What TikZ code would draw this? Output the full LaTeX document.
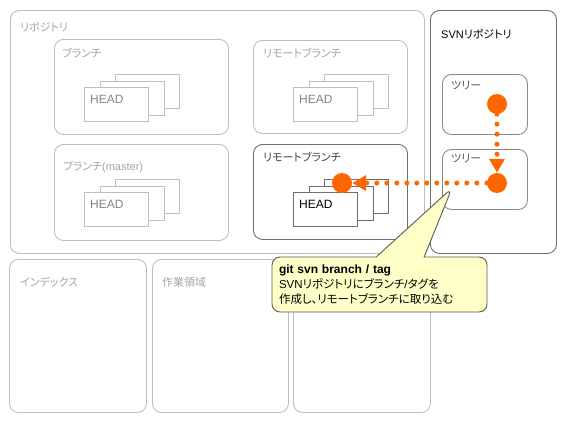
\documentclass[tikz,border=0pt]{standalone}
\usepackage{fontspec}
\setmainfont{Liberation Sans}
\newfontfamily\jp[RawFeature=+palt]{Noto Sans CJK JP}
\usetikzlibrary{positioning, shapes.callouts, arrows.meta}
\definecolor{boxpale}{HTML}{BEBEBE}
\definecolor{boxdark}{HTML}{6E6E6E}
\definecolor{textpale}{HTML}{A4A4A4}
\definecolor{headpale}{HTML}{858585}
\definecolor{svnorange}{HTML}{FF6600}
\definecolor{notefill}{HTML}{FFFFC8}
\definecolor{notedraw}{HTML}{5A5A5A}

\begin{document}
\begin{tikzpicture}[x=1pt,y=-1pt,
    area/.style={draw=#1, line width=0.9pt, rounded corners=9pt,
        anchor=north west, inner sep=0pt},
    sheet/.style={draw=#1, fill=white, line width=0.9pt, anchor=north west,
        minimum width=64pt, minimum height=34pt, inner sep=0pt},
    lbl/.style={text=#1, inner sep=0pt, text height=8pt, text depth=2pt,
        font=\fontsize{11}{13}\selectfont\jp},
    head/.style={text=#1, inner sep=0pt, text height=8pt, text depth=2pt,
        font=\fontsize{12}{14}\selectfont},
    dot/.style={circle, fill=svnorange, minimum size=20pt, inner sep=0pt},
    flow/.style={svnorange, line width=5pt, line cap=round,
        dash pattern=on 0pt off 10pt,
        -{Triangle[length=14pt, width=15pt]}},
    note/.style={rectangle callout, draw=notedraw, fill=notefill,
        line width=0.9pt, rounded corners=8pt, minimum width=215pt,
        minimum height=55pt, text width=201pt, align=left, inner xsep=7pt,
        callout pointer width=48pt, font=\fontsize{11.5}{15}\selectfont}]
    \useasboundingbox (0,0) rectangle (566,421);

    \node[area=boxpale, minimum width=414pt, minimum height=243pt] (repo) at (10,10) {};
    \node[lbl=textpale, below right=13pt and 10pt of repo.north west] (repo-l) {リポジトリ};

    \node[area=boxpale, minimum width=174pt, minimum height=95pt] (branch) at (54,39) {};
    \node[lbl=textpale, below right=10pt and 8pt of branch.north west] (branch-l) {ブランチ};
    \node[area=boxpale, minimum width=174pt, minimum height=96pt] (master) at (54,144) {};
    \node[lbl=textpale, below right=18pt and 9pt of master.north west] (master-l) {ブランチ{\rmfamily(master)}};
    \node[area=boxpale, minimum width=154pt, minimum height=93pt] (remote) at (253,40) {};
    \node[lbl=textpale, below right=9pt and 10pt of remote.north west] (remote-l) {リモートブランチ};
    \node[area=boxdark, minimum width=154pt, minimum height=95pt] (svnremote) at (253,144) {};
    \node[lbl=black!75, below right=9pt and 10pt of svnremote.north west] (svnremote-l) {リモートブランチ};

    \node[area=boxdark, minimum width=126pt, minimum height=243pt] (svn) at (430,10) {};
    \node[lbl=black, below right=20pt and 11pt of svn.north west] (svn-l) {{\rmfamily SVN}リポジトリ};
    \node[area=boxdark!80, minimum width=85pt, minimum height=60pt] (tree1) at (442,74) {};
    \node[lbl=black!65, below right=7pt and 9pt of tree1.north west] (tree1-l) {ツリー};
    \node[area=boxdark!80, minimum width=85pt, minimum height=60pt] (tree2) at (442,149) {};
    \node[lbl=black!65, below right=5pt and 9pt of tree2.north west] (tree2-l) {ツリー};

    \node[area=boxpale, minimum width=137pt, minimum height=153pt] (index) at (9,259) {};
    \node[lbl=textpale, below right=19pt and 11pt of index.north west] (index-l) {インデックス};
    \node[area=boxpale, minimum width=136pt, minimum height=153pt] (work) at (152,259) {};
    \node[lbl=textpale, below right=19pt and 10pt of work.north west] (work-l) {作業領域};
    \node[area=boxpale, minimum width=137pt, minimum height=153pt] (area3) at (293,259) {};

    \foreach \n/\x/\y/\c/\t in {hb/84/87/boxpale/headpale, hm/84/192/boxpale/headpale,
        hr/293/87/boxpale/headpale, hs/293/192/boxdark/black} {
        \node[sheet=\c] (\n3) at (\x+31,\y-13) {};
        \node[sheet=\c] (\n2) at (\x+16,\y-6) {};
        \node[sheet=\c] (\n1) at (\x,\y) {};
        \node[head=\t, below right=8pt and 6pt of \n1.north west] (\n-t) {HEAD};
    }

    \node[dot] (t1dot) at (497,104) {};
    \node[dot] (t2dot) at (497,183) {};
    \node[dot] (rdot) at (342,183) {};
    \draw[flow] (t1dot) -- (t2dot);
    \draw[flow] (t2dot) -- (rdot);

    \coordinate (tip) at (452,188);
    \node[note, callout absolute pointer={(tip)}]
    [execute at begin node=\setlength{\baselineskip}{15pt}] (note) at (379.5,284.5)
    {{\fontsize{12}{15}\selectfont\bfseries git svn branch / tag}\\
     SVN{\jp リポジトリにブランチ}/{\jp タグを}\\
     {\jp 作成し、リモートブランチに取り込む}\par\vspace*{6pt}};
\end{tikzpicture}
\end{document}
